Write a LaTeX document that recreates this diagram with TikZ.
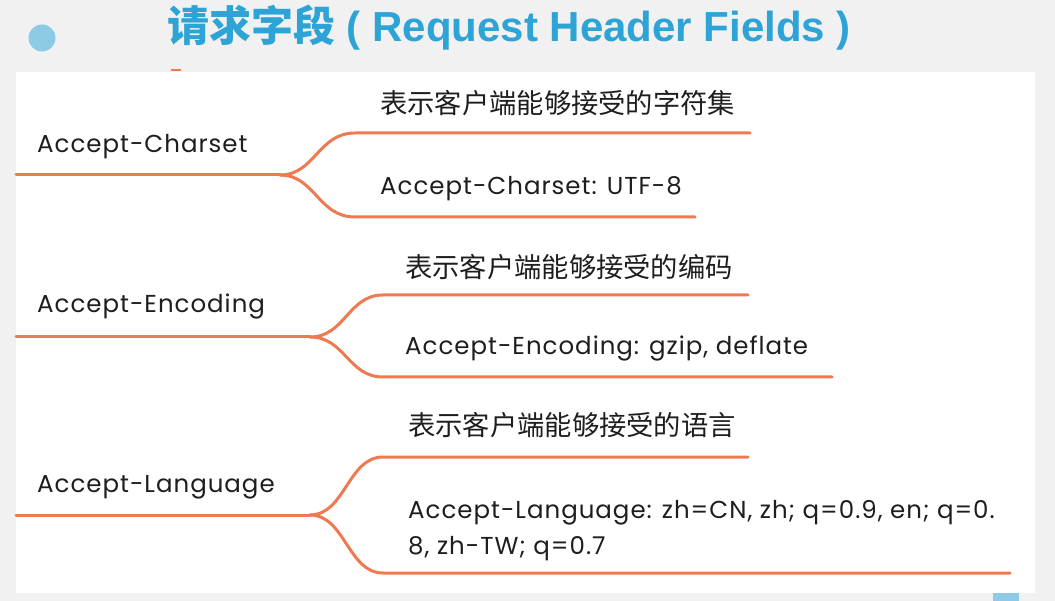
\documentclass[tikz,border=0pt]{standalone}
\usepackage{fontspec}
\newfontfamily\lat{Poppins}[LetterSpace=4]
\newfontfamily\cjk{Noto Sans CJK SC}
\newfontfamily\titlelat{Liberation Sans}
\definecolor{bgc}{HTML}{F1F1F1}
\definecolor{titlec}{HTML}{2DA3D6}
\definecolor{dotc}{HTML}{8DCAE6}
\definecolor{branchc}{HTML}{EF7A52}
\definecolor{inkc}{HTML}{1E1E1E}
\tikzset{
  limb/.style={draw=branchc, line width=3pt, line cap=round},
  roottext/.style={anchor=base west, inner sep=0pt, text=inkc, font=\lat\fontsize{24.5}{29}\selectfont},
  leaftext/.style={anchor=base west, inner sep=0pt, text=inkc, font=\lat\fontsize{24.5}{36}\selectfont, align=left},
  cjktext/.style={anchor=west, inner sep=0pt, text=inkc, font=\cjk\fontsize{27.3}{31}\selectfont},
}
\begin{document}
\begin{tikzpicture}[x=1pt,y=-1pt]
\fill[bgc] (0,0) rectangle (1055,601);
\useasboundingbox (0,0) rectangle (1055,601);
\fill[white] (16,72) rectangle (1035,593);
\fill[dotc] (42,38) circle (13.5);
\fill[dotc] (993,593) rectangle (1019,601);
\draw[branchc, line width=2pt] (171,70.5) -- (181,70.5);
\node[anchor=base west, inner sep=0pt, text=titlec] (title) at (167,42)
  {{\cjk\bfseries\fontsize{42}{46}\selectfont 请求字段}{\titlelat\bfseries\fontsize{42}{46}\selectfont\ ( Request Header Fields )}};

% group 1
\coordinate (r1) at (16,175);
\coordinate (s1) at (280,175);
\coordinate (t1) at (355,133);
\coordinate (te1) at (750,133);
\coordinate (b1) at (355,217);
\coordinate (be1) at (695,217);
\node[roottext] (n1) at (37,153) {Accept-Charset};
\node[cjktext] (c1) at (380,103) {表示客户端能够接受的字符集};
\node[leaftext] (e1) at (380,195) {Accept-Charset: UTF-8};
\draw[limb] (r1) -- (s1);
\draw[limb] (s1) .. controls (315,175) and (318,133) .. (t1) -- (te1);
\draw[limb] (s1) .. controls (315,175) and (318,217) .. (b1) -- (be1);

% group 2
\coordinate (r2) at (16,337);
\coordinate (s2) at (310,337);
\coordinate (t2) at (383,295);
\coordinate (te2) at (748,295);
\coordinate (b2) at (383,377);
\coordinate (be2) at (832,377);
\node[roottext] (n2) at (37,313) {Accept-Encoding};
\node[cjktext] (c2) at (405,267) {表示客户端能够接受的编码};
\node[leaftext] (e2) at (405,355) {Accept-Encoding: gzip, deflate};
\draw[limb] (r2) -- (s2);
\draw[limb] (s2) .. controls (345,337) and (348,295) .. (t2) -- (te2);
\draw[limb] (s2) .. controls (345,337) and (348,377) .. (b2) -- (be2);

% group 3
\coordinate (r3) at (16,515);
\coordinate (s3) at (310,515);
\coordinate (t3) at (383,457);
\coordinate (te3) at (748,457);
\coordinate (b3) at (383,573);
\coordinate (be3) at (1010,573);
\node[roottext] (n3) at (37,492) {Accept-Language};
\node[cjktext] (c3) at (408,425) {表示客户端能够接受的语言};
\node[leaftext] (e3) at (408,554) {Accept-Language: zh=CN, zh; q=0.9, en; q=0.\\8, zh-TW; q=0.7};
\draw[limb] (r3) -- (s3);
\draw[limb] (s3) .. controls (345,515) and (348,457) .. (t3) -- (te3);
\draw[limb] (s3) .. controls (345,515) and (348,573) .. (b3) -- (be3);
\end{tikzpicture}
\end{document}
